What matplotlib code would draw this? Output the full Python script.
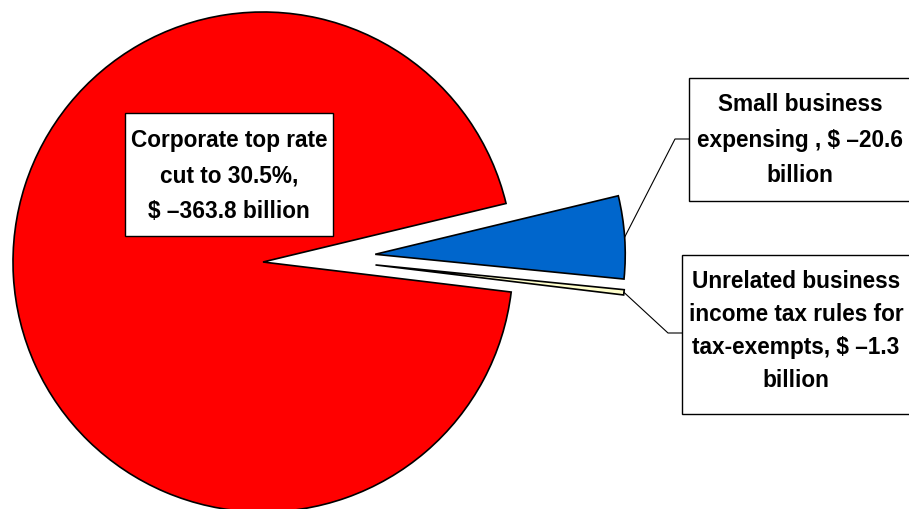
import numpy as np
import matplotlib.pyplot as plt
from matplotlib.patches import Rectangle

# Revenue effects, billions of dollars
labels = ['Corporate top rate\ncut to 30.5%,\n$ \u2013363.8 billion',
          'Small business\nexpensing , $ \u201320.6\nbillion',
          'Unrelated business\nincome tax rules for\ntax-exempts, $ \u20131.3\nbillion']
values = [363.8, 20.6, 1.3]
colors = ['#FF0000', '#0066CC', '#FFFFCC']
explode = [0, 0.45, 0.45]

W, H = 909, 510
CX, CY, R = 263, 263, 250  # pie centre / radius in pixels


def px(x, y):
    # pixel (from top-left) -> data coords (pie radius = 1)
    return (x - CX) / R, (CY - y) / R


fig = plt.figure(figsize=(W / 100, H / 100), dpi=100)
ax = fig.add_axes([0, 0, 1, 1])

wedges, _ = ax.pie(values, colors=colors, explode=explode, startangle=-6.9,
                   counterclock=False, radius=1,
                   wedgeprops=dict(edgecolor='black', linewidth=1.2))
# the thin slice sits a little higher than a straight explode puts it
ang = np.deg2rad(-1.5)
wedges[2].set_center((explode[2] * np.cos(ang), explode[2] * np.sin(ang)))

ax.set_xlim(-CX / R, (W - CX) / R)
ax.set_ylim(-(H - CY) / R, CY / R)
ax.set_aspect('equal')
ax.axis('off')

font = dict(family=['Liberation Sans', 'DejaVu Sans'],
            fontweight='bold', fontsize=16.3, ha='center', va='center',
            color='black')

# boxes: (x0, y0, x1, y1) in pixels, text centre, line spacing
boxes = [((125, 114, 333, 237), (229, 176), 1.7),
         ((689, 79, 915, 202), (800, 140), 1.7),
         ((682, 256, 915, 415), (796, 331), 1.55)]
for (x0, y0, x1, y1), _, _ in boxes:
    a, b = px(x0, y1)
    c, d = px(x1, y0)
    ax.add_patch(Rectangle((a, b), c - a, d - b, facecolor='white',
                           edgecolor='black', linewidth=1, zorder=3, clip_on=False))
for lab, (_, (tx, ty), ls) in zip(labels, boxes):
    ax.text(*px(tx, ty), lab, zorder=4, linespacing=ls, **font)


def tip(w):
    th = np.deg2rad((w.theta1 + w.theta2) / 2)
    return w.center[0] + w.r * np.cos(th), w.center[1] + w.r * np.sin(th)


# leader lines
for w, elbow, end in [(wedges[1], (675, 140), (689, 140)),
                      (wedges[2], (668, 334), (682, 334))]:
    x0, y0 = tip(w)
    ex, ey = px(*elbow)
    fx, fy = px(*end)
    ax.plot([x0, ex, fx], [y0, ey, fy], color='black', lw=0.8, zorder=2)

fig.savefig('out.png', dpi=100)
